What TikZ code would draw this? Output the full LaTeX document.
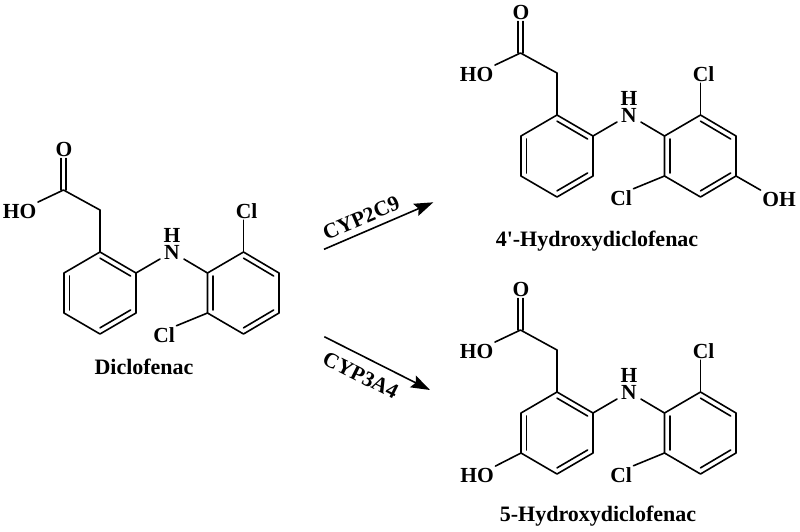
\documentclass[tikz,border=0pt]{standalone}
\usepackage{fontspec}
\setmainfont{Liberation Serif}[Ligatures=TeXOff]
\usetikzlibrary{arrows.meta,calc}
\usetikzlibrary{positioning}
\tikzstyle{bond}=[line width=1.6pt, line cap=round, line join=round]
\tikzstyle{atom}=[inner sep=1.5pt, font=\fontsize{21.5}{23}\selectfont\bfseries]
\tikzstyle{title}=[inner sep=0pt, anchor=base, font=\fontsize{22}{24}\selectfont\bfseries]
\tikzstyle{enzyme}=[inner sep=6pt, font=\fontsize{21.5}{23}\selectfont\bfseries]
\tikzstyle{reaction}=[line width=1.6pt, -{Stealth[length=19pt,width=13pt,inset=3pt]}]

% one skeleton: prefix, shift
\newcommand{\skeleton}[2]{
  \begin{scope}[shift={(#2)}]
    \coordinate (#1cooh) at (63.5,190);
    \coordinate (#1ch2) at (100,210);
    \coordinate (#1a1) at (100,252);
    \coordinate (#1a2) at (136,273);
    \coordinate (#1a3) at (136,313);
    \coordinate (#1a4) at (100,334);
    \coordinate (#1a5) at (64,313);
    \coordinate (#1a6) at (64,273);
    \coordinate (#1acen) at (100,293);
    \coordinate (#1b1) at (207.5,273);
    \coordinate (#1b2) at (243.5,252);
    \coordinate (#1b3) at (279,273);
    \coordinate (#1b4) at (279,313);
    \coordinate (#1b5) at (243.5,334);
    \coordinate (#1b6) at (207.5,313);
    \coordinate (#1bcen) at (243.5,293);
    \node (#1oxo) [atom] at (64,149.5) {O};
    \node (#1acid) [atom] at (19.5,211) {HO};
    \node (#1amine) [atom, inner xsep=4pt] at (172,252) {N};
    \node (#1aminh) [atom, inner sep=1pt, above=0pt of #1amine] {H};
    \node (#1clup) [atom] at (246.5,211) {Cl};
    \node (#1cldn) [atom] at (164,335) {Cl};
  \end{scope}
  \draw[bond] ([xshift=-2.7pt]#1cooh) -- ([xshift=-2.7pt]#1cooh |- #1oxo.south);
  \draw[bond] ([xshift=2.7pt]#1cooh) -- ([xshift=2.7pt]#1cooh |- #1oxo.south);
  \draw[bond] (#1acid.north east) -- (#1cooh) -- (#1ch2) -- (#1a1);
  \draw[bond] (#1a1) -- (#1a2) -- (#1a3) -- (#1a4) -- (#1a5) -- (#1a6) -- cycle;
  \draw[bond] (#1b1) -- (#1b2) -- (#1b3) -- (#1b4) -- (#1b5) -- (#1b6) -- cycle;
  \draw[bond] (#1a2) -- (#1amine) -- (#1b1);
  \draw[bond] (#1b2) -- (#1b2 |- #1clup.south);
  \draw[bond] (#1b6) -- (#1cldn.north east);
  \foreach \p/\q/\c in {a1/a2/a, a3/a4/a, a5/a6/a, b1/b6/b, b2/b3/b, b4/b5/b} {
    \draw[bond] ($(#1\p)!0.15!(#1\c cen)$) -- ($(#1\q)!0.15!(#1\c cen)$);
  }
}

\begin{document}
\begin{tikzpicture}[x=1pt,y=-1pt]
    \useasboundingbox (0,0) rectangle (800,531);

    \skeleton{dc}{0,0}
    \skeleton{hf}{457,-137}
    \skeleton{hv}{457,140}

    % extra hydroxyl groups
    \node (hfoh) [atom] at (779,199) {OH};
    \draw[bond] (hfb4) -- (hfoh.north west);
    \node (hvoh) [atom] at (477,475) {HO};
    \draw[bond] (hva5) -- (hvoh.north east);

    \node (dctitle) [title] at (144,374) {Diclofenac};
    \node (hftitle) [title] at (597,246) {4'-Hydroxydiclofenac};
    \node (hvtitle) [title] at (598,521.7) {5-Hydroxydiclofenac};

    \coordinate (upstart) at (324,249.3);
    \coordinate (upend) at (433.3,202.3);
    \coordinate (downstart) at (324.3,336.7);
    \coordinate (downend) at (430,390);
    \draw[reaction] (upstart) -- node[enzyme, sloped, above, pos=0.39] {CYP2C9} (upend);
    \draw[reaction] (downstart) -- node[enzyme, inner sep=10pt, sloped, below, pos=0.42] {CYP3A4} (downend);

\end{tikzpicture}
\end{document}
